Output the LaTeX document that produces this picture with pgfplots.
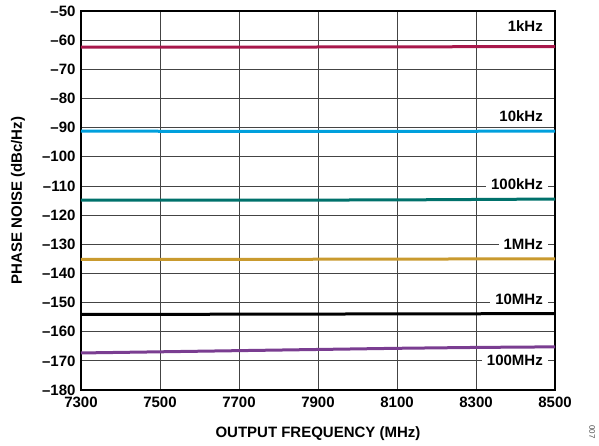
\documentclass[border=0pt]{standalone}
\usepackage{fontspec}
\setmainfont{Liberation Sans}
\usepackage{pgfplots}
\pgfplotsset{compat=1.18}
\definecolor{c1k}{HTML}{A8184B}
\definecolor{c10k}{HTML}{00A0DD}
\definecolor{c100k}{HTML}{00716B}
\definecolor{c1M}{HTML}{C99A2E}
\definecolor{c10M}{HTML}{000000}
\definecolor{c100M}{HTML}{7A3D91}
\definecolor{gridc}{HTML}{444444}
\newcommand{\lbf}{\fontsize{15}{17}\selectfont\bfseries}
\begin{document}
\begin{tikzpicture}
\useasboundingbox (0pt,0pt) rectangle (599pt,446pt);
\begin{axis}[
  at={(81pt,56pt)}, anchor=south west,
  scale only axis, width=474pt, height=379pt,
  xmin=7300, xmax=8500, ymin=-180, ymax=-50,
  xtick={7300,7500,...,8500},
  ytick={-180,-170,...,-50},
  yticklabels={–180,–170,–160,–150,–140,–130,–120,–110,–100,–90,–80,–70,–60,–50},
  xticklabel style={/pgf/number format/set thousands separator={}, /pgf/number format/assume math mode=true, yshift=-3pt},
  ticklabel style={font=\lbf},
  yticklabel style={xshift=-2pt},
  major tick length=0pt,
  grid=major,
  major grid style={draw=gridc, line width=0.8pt},
  axis line style={line width=1.5pt, black},
  clip=true,
  xlabel={OUTPUT FREQUENCY (MHz)},
  ylabel={PHASE NOISE (dBc/Hz)},
  label style={font=\lbf},
  xlabel style={at={(rel axis cs:0.5,0)}, anchor=center, yshift=-44pt},
  ylabel style={at={(rel axis cs:0,0.5)}, anchor=center, yshift=63pt},
  every axis plot/.append style={line width=3pt, no marks},
]
\addplot[c1k] coordinates {(7300,-62.4) (7700,-62.4) (8100,-62.3) (8500,-62.2)};
\addplot[c10k] coordinates {(7300,-91.2) (7700,-91.3) (8100,-91.3) (8500,-91.2)};
\addplot[c100k] coordinates {(7300,-114.9) (7700,-114.9) (8100,-114.8) (8500,-114.5)};
\addplot[c1M] coordinates {(7300,-135.2) (7700,-135.2) (8100,-135.1) (8500,-135.0)};
\addplot[c10M] coordinates {(7300,-154.1) (7700,-154.0) (8100,-153.9) (8500,-153.8)};
\addplot[c100M] coordinates {(7300,-167.3) (7500,-166.9) (7700,-166.5) (7900,-166.1) (8100,-165.7) (8300,-165.4) (8500,-165.2)};
\begin{scope}[every node/.style={font=\lbf, fill=white, inner xsep=5pt, inner ysep=1pt, anchor=east, xshift=-7pt}]
\node at (axis cs:8500,-55.1) {1kHz};
\node at (axis cs:8500,-85.9) {10kHz};
\node at (axis cs:8500,-109.4) {100kHz};
\node at (axis cs:8500,-130.2) {1MHz};
\node at (axis cs:8500,-149.0) {10MHz};
\node at (axis cs:8500,-169.9) {100MHz};
\end{scope}
\end{axis}
\node[rotate=-90, font=\fontsize{8}{9}\selectfont, text=black!70] at (592pt,14pt) {007};
\end{tikzpicture}
\end{document}
